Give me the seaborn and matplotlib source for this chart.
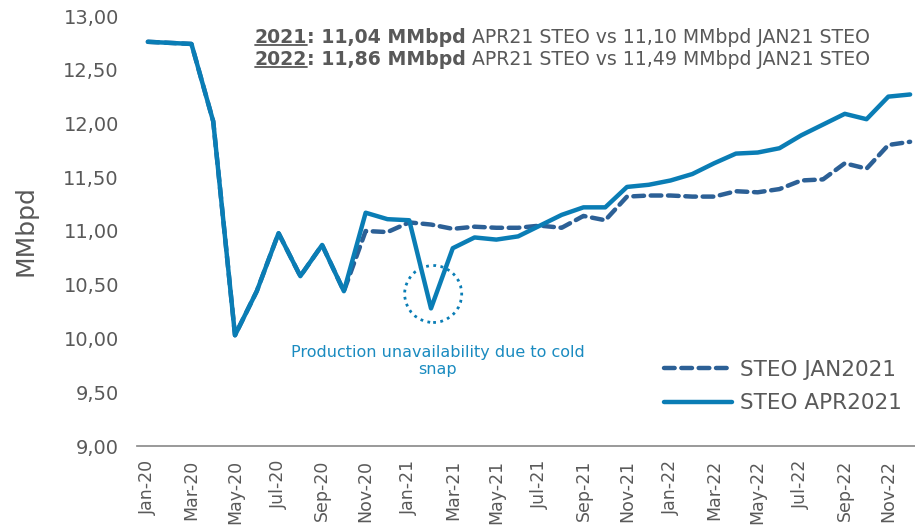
import numpy as np
import pandas as pd
import matplotlib
matplotlib.use("Agg")
import matplotlib.pyplot as plt
import seaborn as sns
from matplotlib.patches import Ellipse
from matplotlib.lines import Line2D
from matplotlib.ticker import FuncFormatter

# monthly crude production forecast, MMbpd
months = ["Jan-20", "Feb-20", "Mar-20", "Apr-20", "May-20", "Jun-20",
          "Jul-20", "Aug-20", "Sep-20", "Oct-20", "Nov-20", "Dec-20",
          "Jan-21", "Feb-21", "Mar-21", "Apr-21", "May-21", "Jun-21",
          "Jul-21", "Aug-21", "Sep-21", "Oct-21", "Nov-21", "Dec-21",
          "Jan-22", "Feb-22", "Mar-22", "Apr-22", "May-22", "Jun-22",
          "Jul-22", "Aug-22", "Sep-22", "Oct-22", "Nov-22", "Dec-22"]

steo_jan2021 = [12.76, 12.75, 12.74, 12.02, 10.03, 10.44, 10.98, 10.58, 10.87, 10.44,
                11.00, 10.99, 11.08, 11.06, 11.02, 11.04, 11.03, 11.03, 11.05, 11.03,
                11.14, 11.10, 11.32, 11.33, 11.33, 11.32, 11.32, 11.37, 11.36, 11.39,
                11.47, 11.48, 11.63, 11.58, 11.80, 11.83]

steo_apr2021 = [12.76, 12.75, 12.74, 12.02, 10.03, 10.44, 10.98, 10.58, 10.87, 10.44,
                11.17, 11.11, 11.10, 10.28, 10.84, 10.94, 10.92, 10.95, 11.05, 11.15,
                11.22, 11.22, 11.41, 11.43, 11.47, 11.53, 11.63, 11.72, 11.73, 11.77,
                11.89, 11.99, 12.09, 12.04, 12.25, 12.27]

df = pd.DataFrame({"mes": months, "i": np.arange(len(months)),
                   "jan": steo_jan2021, "apr": steo_apr2021})

sns.set_theme(style="white")
plt.rcParams['font.family'] = ['DejaVu Sans']

pilka = "#595959"
c_jan = "#2C6096"
c_apr = "#0A7DB5"

fig = plt.figure(figsize=(9.15, 5.29), dpi=100)
ax = fig.add_axes([137 / 915, 83 / 529, 784 / 915, 430 / 529])

sns.lineplot(data=df, x="i", y="jan", ax=ax, color=c_jan, lw=3.2,
             linestyle=(0, (2.4, 1.5)), dash_capstyle="round", label="STEO JAN2021")
sns.lineplot(data=df, x="i", y="apr", ax=ax, color=c_apr, lw=3.2,
             solid_capstyle="round", label="STEO APR2021")

ax.set_xlim(-0.5, 35.5)
ax.set_ylim(9, 13)
ax.set_yticks(np.arange(9, 13.01, 0.5))
ax.yaxis.set_major_formatter(FuncFormatter(lambda v, p: f"{v:.2f}".replace(".", ",")))
ax.tick_params(axis="y", length=0, pad=13, labelsize=14, labelcolor=pilka)

ax.set_xticks(np.arange(-0.5, 36, 1))
ax.set_xticklabels([])
ax.set_xticks(np.arange(0, 36, 2), minor=True)
ax.set_xticklabels(months[::2], minor=True, rotation=90)
ax.tick_params(axis="x", which="major", length=5, width=1, color="#8c8c8c", direction="out")
ax.tick_params(axis="x", which="minor", length=0, pad=10, labelsize=12.5, labelcolor=pilka)

for s in ["top", "right", "left"]:
    ax.spines[s].set_visible(False)
ax.spines["bottom"].set_color("#8c8c8c")
ax.set_xlabel("")
ax.set_ylabel("")
fig.text(25 / 915, 1 - 231 / 529, "MMbpd", rotation=90, ha="center", va="center",
         fontsize=18, color=pilka)

# cold snap note
ax.add_patch(Ellipse((13.1, 10.414), width=2.62, height=0.53, fill=False,
                     ls=(0, (1, 1.6)), lw=2, ec=c_apr))
ax.text(13.3, 9.79, "Production unavailability due to cold\nsnap", ha="center", va="center",
        fontsize=11.5, color="#1A8BC0", linespacing=1.1)

ax.legend(loc="lower right", bbox_to_anchor=(913 / 915, 1 - 424 / 529),
          bbox_transform=fig.transFigure, frameon=False, fontsize=15.5,
          handlelength=3.15, handletextpad=0.4, labelspacing=0.62, borderpad=0,
          labelcolor=pilka)

# header lines with bold/underlined years
eilutes = [("2021", ": 11,04 MMbpd", "APR21 STEO vs 11,10 MMbpd JAN21 STEO", 1 - 47 / 529),
           ("2022", ": 11,86 MMbpd", "APR21 STEO vs 11,49 MMbpd JAN21 STEO", 1 - 69 / 529)]
metai_txt = []
for metai, bold, likutis, yy in eilutes:
    t1 = fig.text(255 / 915, yy, metai, fontsize=13.6, weight="bold", color=pilka, va="bottom")
    t2 = ax.annotate(bold, xy=(1, 0), xycoords=t1, va="bottom", ha="left",
                     fontsize=13.6, weight="bold", color=pilka)
    ax.annotate(likutis, xy=(1, 0), xycoords=t2, xytext=(4, 0), textcoords="offset points",
                va="bottom", ha="left", fontsize=13.6, color=pilka)
    metai_txt.append(t1)

fig.canvas.draw()
inv = fig.transFigure.inverted()
for t in metai_txt:
    bb = t.get_window_extent()
    (x0, y0), (x1, _) = inv.transform([(bb.x0, bb.y0 + 2), (bb.x1, bb.y0 + 2)])
    fig.add_artist(Line2D([x0, x1], [y0, y0], transform=fig.transFigure, color=pilka, lw=1.3))

fig.savefig("out.png", dpi=100)
